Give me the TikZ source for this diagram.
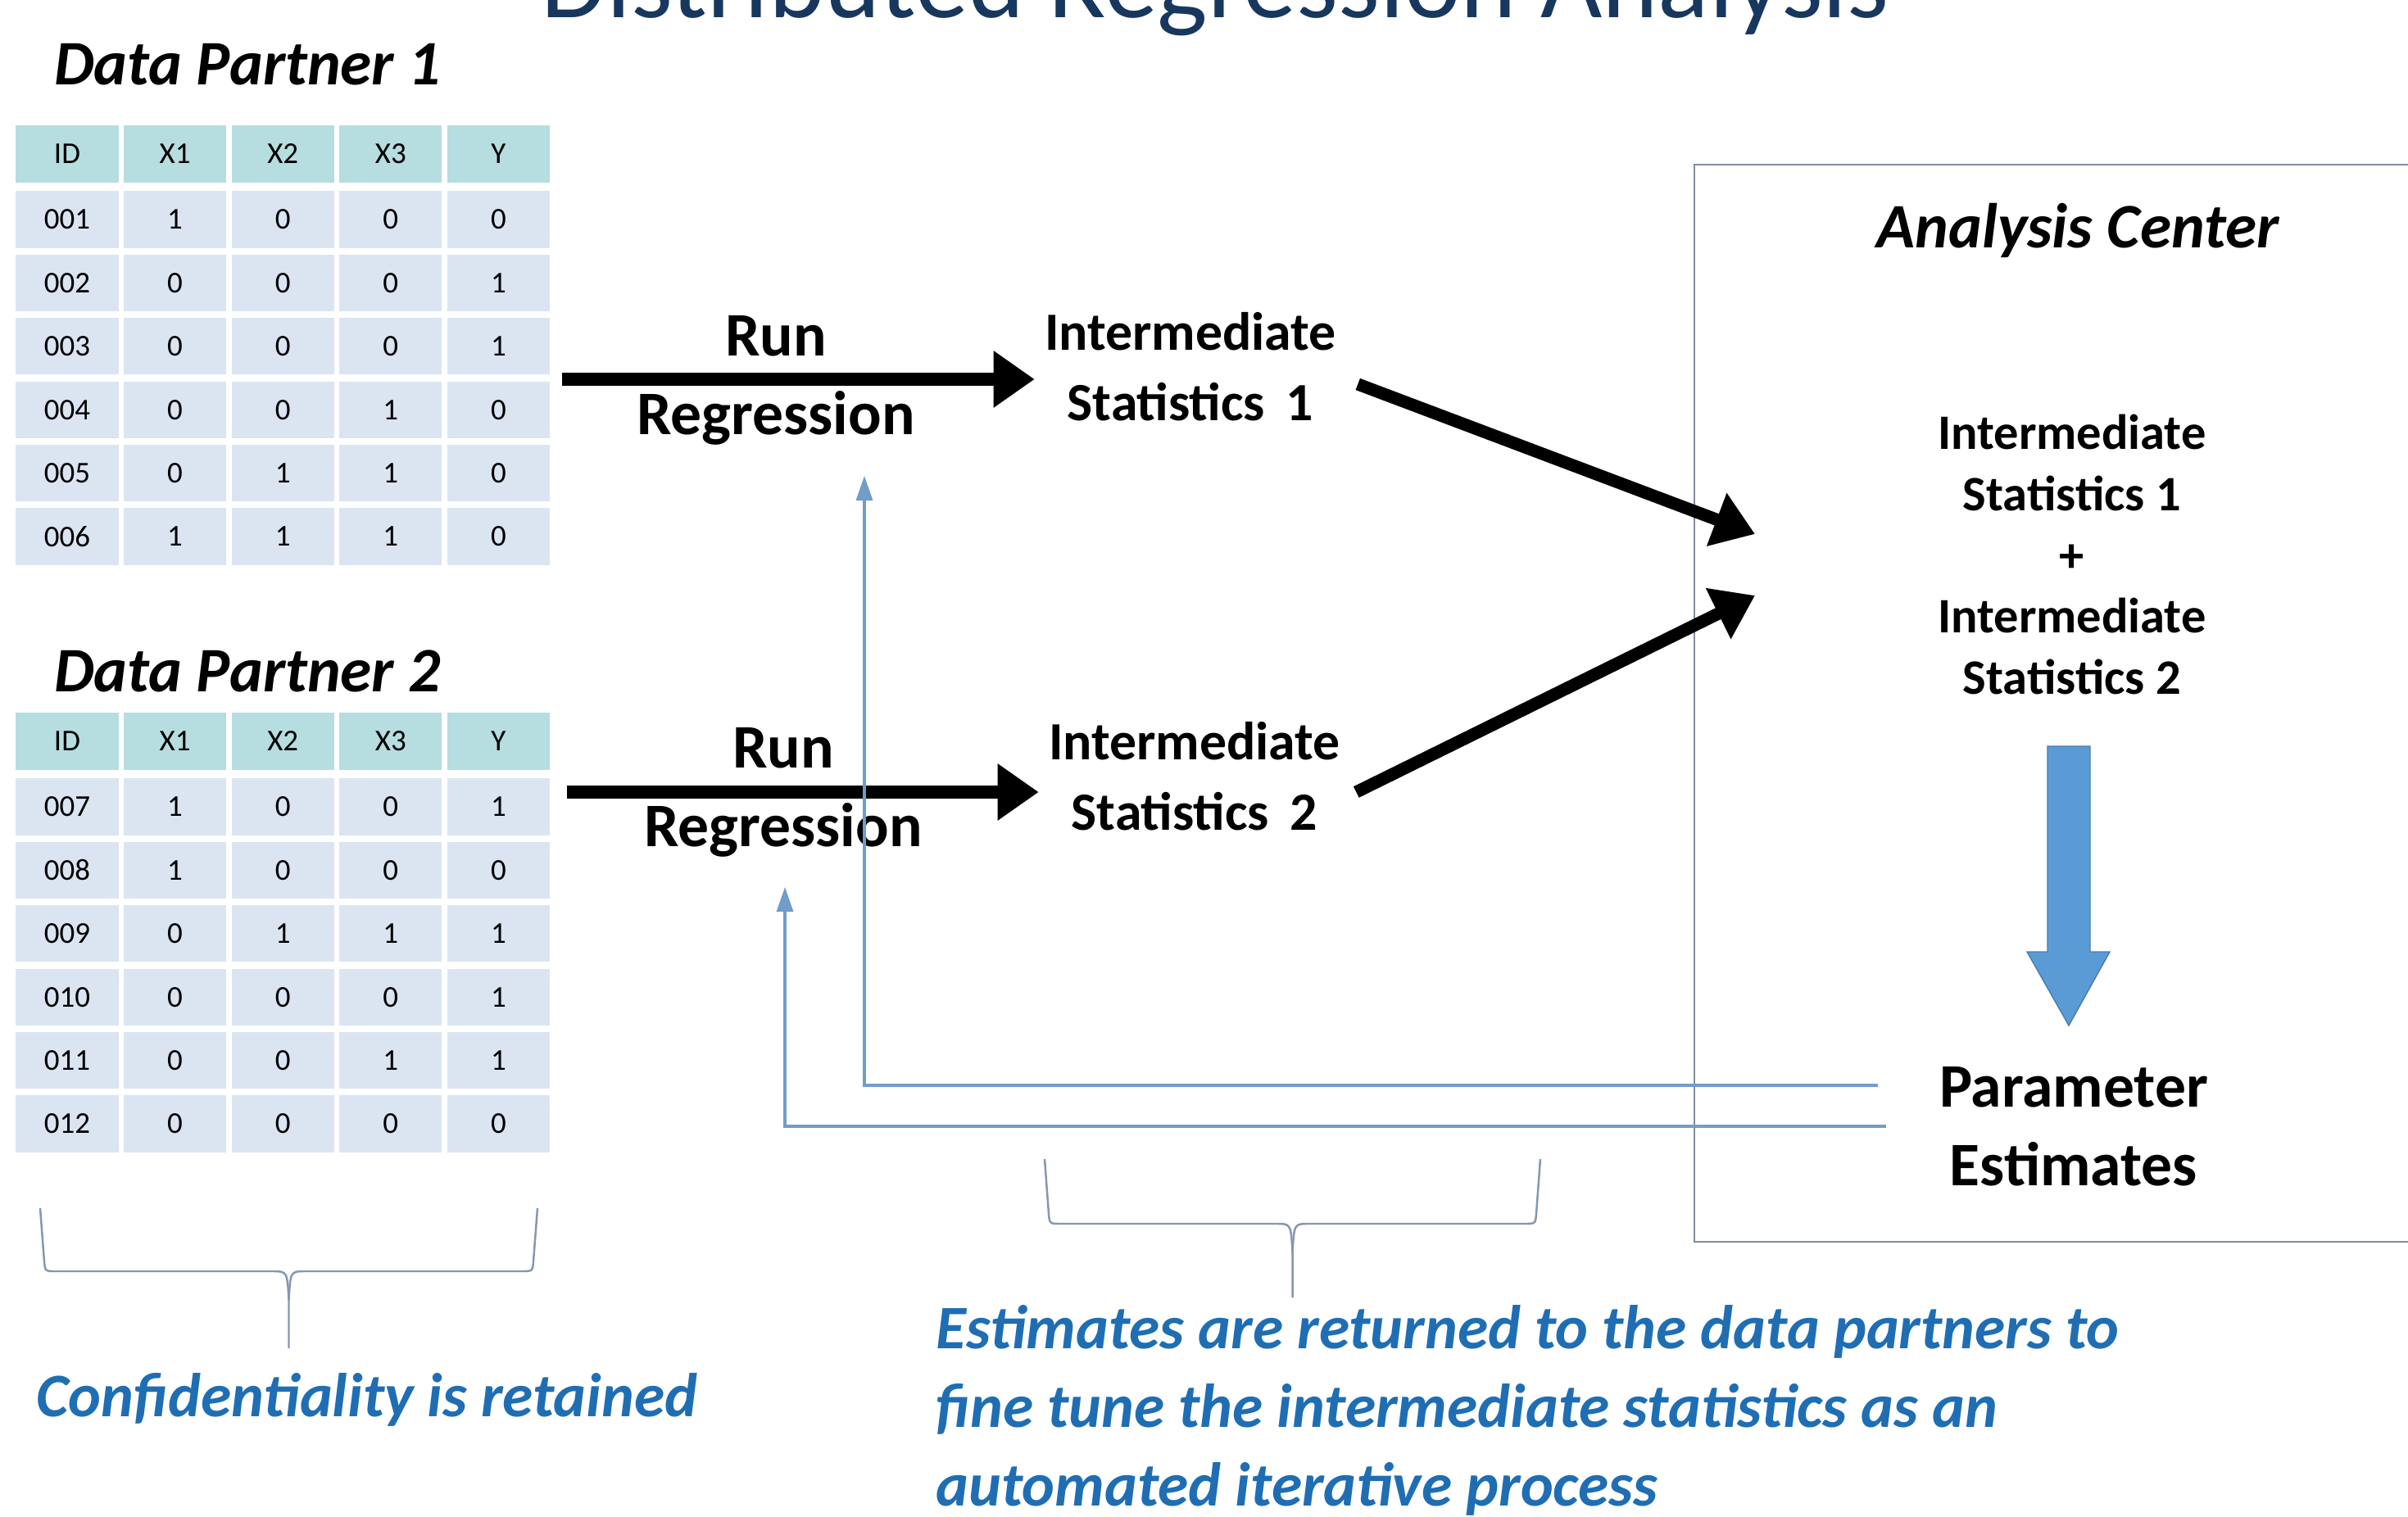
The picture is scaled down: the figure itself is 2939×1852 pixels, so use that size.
\documentclass[tikz,border=0pt]{standalone}
\usepackage{fontspec}
\setmainfont{Carlito}
\usepackage{tikz}
\usetikzlibrary{positioning,arrows.meta}

\definecolor{titleblue}{RGB}{23,55,94}
\definecolor{headfill}{RGB}{182,221,224}
\definecolor{rowfill}{RGB}{219,229,241}
\definecolor{noteblue}{RGB}{31,110,180}
\definecolor{backblue}{RGB}{112,157,201}
\definecolor{bracegray}{RGB}{132,151,176}
\definecolor{boxgray}{RGB}{128,140,158}
\definecolor{fatblue}{RGB}{91,155,213}

\begin{document}
\begin{tikzpicture}[x=0.01cm, y=-0.01cm,
	cell/.style={fill=rowfill, minimum width=1.25cm, minimum height=0.69cm, inner sep=0pt, font=\fontsize{10.5}{12}\selectfont},
	headcell/.style={cell, fill=headfill},
	partner/.style={font=\fontsize{22}{26}\selectfont\bfseries\itshape},
	runlabel/.style={align=center, font=\fontsize{21.5}{27.3}\selectfont\bfseries},
	statlabel/.style={align=center, font=\fontsize{18.7}{24.5}\selectfont\bfseries},
	sumlabel/.style={align=center, font=\fontsize{17.2}{21.2}\selectfont\bfseries},
	note/.style={text=noteblue, font=\fontsize{21.5}{27.3}\selectfont\bfseries\itshape},
	bigarrow/.style={line width=4.3pt, -{Triangle[length=0.5cm, width=0.66cm]}},
	fback/.style={draw=backblue, line width=0.9pt, -{Triangle[length=0.3cm, width=0.2cm]}},
	brace/.style={draw=bracegray, line width=0.7pt}]
	
	\useasboundingbox[fill=white] (0,0) rectangle (2939,1852);
	
	\node[text=titleblue, font=\fontsize{37}{44}\selectfont, anchor=base] (title) at (1483,22) {Distributed Regression Analysis};
	
	\node[partner] (dp1) at (302,79) {Data Partner 1};
	\node[partner] (dp2) at (302,819) {Data Partner 2};
	
	\foreach \h [count=\c] in {ID,X1,X2,X3,Y} {
		\node[headcell] (t1-0-\c) at ({82+131.6*(\c-1)},188) {\h};
		\node[headcell] (t2-0-\c) at ({82+131.6*(\c-1)},905) {\h};
	}
	\foreach \row [count=\r] in {{001,1,0,0,0},{002,0,0,0,1},{003,0,0,0,1},{004,0,0,1,0},{005,0,1,1,0},{006,1,1,1,0}}
		\foreach \v [count=\c] in \row
			\node[cell] (t1-\r-\c) at ({82+131.6*(\c-1)},{268+77.4*(\r-1)}) {\v};
	\foreach \row [count=\r] in {{007,1,0,0,1},{008,1,0,0,0},{009,0,1,1,1},{010,0,0,0,1},{011,0,0,1,1},{012,0,0,0,0}}
		\foreach \v [count=\c] in \row
			\node[cell] (t2-\r-\c) at ({82+131.6*(\c-1)},{985+77.4*(\r-1)}) {\v};
	
	\node[runlabel] (rr1) at (947,464) {Run\\Regression};
	\node[runlabel] (rr2) at (956,967) {Run\\Regression};
	\node[statlabel] (is1) at (1453,448) {Intermediate\\Statistics~\,1};
	\node[statlabel] (is2) at (1458,948) {Intermediate\\Statistics~\,2};
	
	\node[draw=boxgray, line width=0.6pt, minimum width=9.4cm, minimum height=13.14cm, anchor=north west] (ac) at (2067,200) {};
	\node[partner] (actitle) at (2536,281) {Analysis Center};
	\node[sumlabel] (acsum) at (2529,677) {Intermediate\\Statistics 1\\+\\Intermediate\\Statistics 2};
	\node[runlabel] (pe) at (2531,1375) {Parameter\\Estimates};
	\fill[fatblue, draw=fatblue!80!black, line width=0.4pt] (2499,911) -- (2551,911) -- (2551,1162) -- (2575,1162) -- (2525,1252) -- (2474,1162) -- (2499,1162) -- cycle;
	
	\coordinate (out1) at (686,463);
	\coordinate (out2) at (692,967);
	\coordinate (in1) at (2142,652);
	\coordinate (in2) at (2142,727);
	\draw[bigarrow] (out1) -- (out1 -| is1.west);
	\draw[bigarrow] (out2) -- (out2 -| is2.west);
	\draw[bigarrow] ([shift={(14,21)}]is1.east) -- (in1);
	\draw[bigarrow] ([shift={(7,19)}]is2.east) -- (in2);
	
	\coordinate (up1) at (1055,581);
	\coordinate (up2) at (958,1083);
	\draw[fback] ([shift={(-63,-50)}]pe.west) -| (up1);
	\draw[fback] ([shift={(-53,0)}]pe.west) -| (up2);
	
	\foreach \l/\r/\t/\m/\b in {49/656/1475/1552/1646, 1275/1880/1415/1494/1584} {
		\pgfmathsetmacro\bx{(\l+\r)/2}
		\draw[brace] (\l,\t) -- ({\l+5},{\m-12}) .. controls ({\l+6},\m) .. ({\l+20},\m) -- ({\bx-20},\m) .. controls ({\bx-2},\m) .. (\bx,{\m+35}) -- (\bx,\b);
		\draw[brace] (\r,\t) -- ({\r-5},{\m-12}) .. controls ({\r-6},\m) .. ({\r-20},\m) -- ({\bx+20},\m) .. controls ({\bx+2},\m) .. (\bx,{\m+35});
	}
	
	\node[note] (conf) at (448,1709) {Confidentiality is retained};
	\node[note, align=left, anchor=west] (iter) at (1130,1722) {Estimates are returned to the data partners to\\fine tune the intermediate statistics as an\\automated iterative process};
\end{tikzpicture}
\end{document}
